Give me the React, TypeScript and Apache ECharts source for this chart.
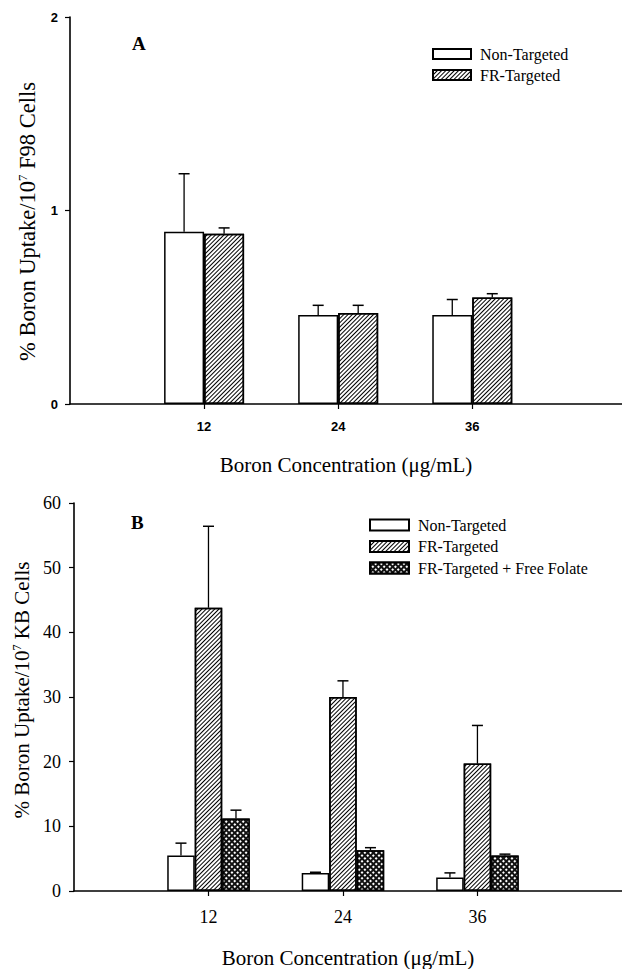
import React, { useEffect, useRef } from 'react';
import * as echarts from 'echarts';

// ---------- data ----------
const concentrationsA = [12, 24, 36];
const nonTargetedA = [0.89, 0.46, 0.46];
const nonTargetedSdA = [0.30, 0.05, 0.08];
const frTargetedA = [0.88, 0.47, 0.55];
const frTargetedSdA = [0.03, 0.04, 0.02];

const concentrationsB = [12, 24, 36];
const nonTargetedB = [5.5, 2.8, 2.1];
const nonTargetedSdB = [1.9, 0.1, 0.7];
const frTargetedB = [43.8, 30.0, 19.7];
const frTargetedSdB = [12.6, 2.5, 5.9];
const freeFolateB = [11.2, 6.3, 5.5];
const freeFolateSdB = [1.3, 0.4, 0.2];

const xTickValues = [12, 24, 36];
const seriesNamesA = ['Non-Targeted', 'FR-Targeted'];
const seriesNamesB = ['Non-Targeted', 'FR-Targeted', 'FR-Targeted + Free Folate'];

// ---------- styles ----------
const SERIF = "'Liberation Serif', 'Times New Roman', serif";
const SANS = "'Liberation Sans', Arial, sans-serif";

const plainStyle = { color: '#fff', borderColor: '#000', borderWidth: 1.5 };
const hatchStyle = {
  color: '#fff',
  borderColor: '#000',
  borderWidth: 1.5,
  decal: {
    symbol: 'rect',
    color: '#000',
    dashArrayX: [1, 0],
    dashArrayY: [1, 1.9],
    rotation: -Math.PI / 4,
  },
};
const crossStyle = {
  color: '#111',
  borderColor: '#000',
  borderWidth: 1.5,
  decal: {
    symbol: 'rect',
    color: '#fff',
    dashArrayX: [1.6, 1.6],
    dashArrayY: [1.6, 1.6],
    rotation: Math.PI / 4,
  },
};

function barSeries(name: string, axis: number, xs: number[], ys: number[], width: number, style: any) {
  return {
    type: 'bar',
    name,
    xAxisIndex: axis,
    yAxisIndex: axis,
    data: xs.map((x, i) => [x, ys[i]]),
    barWidth: width,
    barGap: '0%',
    itemStyle: style,
    emphasis: { disabled: true },
  };
}

function errorSeries(axis: number, xs: number[], ys: number[], sds: number[], offset: number, cap: number) {
  return {
    type: 'custom',
    xAxisIndex: axis,
    yAxisIndex: axis,
    silent: true,
    z: 5,
    data: xs.map((x, i) => [x, ys[i], ys[i] + sds[i]]),
    encode: { x: 0, y: [1, 2] },
    renderItem: (params: any, api: any) => {
      const base = api.coord([api.value(0), api.value(1)]);
      const top = api.coord([api.value(0), api.value(2)]);
      const cx = base[0] + offset;
      return {
        type: 'group',
        children: [
          { type: 'line', shape: { x1: cx, y1: base[1], x2: cx, y2: top[1] }, style: { stroke: '#000', lineWidth: 1.3 } },
          { type: 'line', shape: { x1: cx - cap / 2, y1: top[1], x2: cx + cap / 2, y2: top[1] }, style: { stroke: '#000', lineWidth: 1.5 } },
        ],
      };
    },
  };
}

const axisLineStyle = { color: '#000', width: 1.6 };

export default function App() {
  const ref = useRef<HTMLDivElement>(null);
  useEffect(() => {
    if (!ref.current) return;
    const chart = echarts.init(ref.current, undefined, { renderer: 'svg' });
    const wA = 40;
    const wB = 27.5;
    const option: any = {
      animation: false,
      backgroundColor: '#fff',
      title: [
        { text: 'A', left: 132, top: 34, padding: 0, textStyle: { fontFamily: SERIF, fontWeight: 'bold', fontSize: 19, color: '#000' } },
        { text: 'B', left: 131, top: 513, padding: 0, textStyle: { fontFamily: SERIF, fontWeight: 'bold', fontSize: 19, color: '#000' } },
      ],
      legend: [
        {
          data: seriesNamesA,
          orient: 'vertical',
          left: 432,
          top: 46,
          padding: 0,
          itemWidth: 38,
          itemHeight: 10,
          itemGap: 5,
          icon: 'rect',
          selectedMode: false,
          textStyle: { fontFamily: SERIF, fontSize: 16, color: '#000', padding: [0, 0, 0, 4] },
        },
        {
          data: seriesNamesB,
          orient: 'vertical',
          left: 369,
          top: 517,
          padding: 0,
          itemWidth: 39,
          itemHeight: 11,
          itemGap: 5.5,
          icon: 'rect',
          selectedMode: false,
          textStyle: { fontFamily: SERIF, fontSize: 16, color: '#000', padding: [0, 0, 0, 4] },
        },
      ],
      grid: [
        { left: 70, top: 17, right: 0, height: 387 },
        { left: 74, top: 503, right: 0, height: 388 },
      ],
      xAxis: [
        {
          gridIndex: 0,
          type: 'value',
          min: 0,
          max: 49.4,
          splitLine: { show: false },
          axisLine: { lineStyle: axisLineStyle },
          axisTick: { customValues: xTickValues, length: 5, lineStyle: { color: '#000', width: 1.2 } },
          axisLabel: { customValues: xTickValues, fontFamily: SANS, fontWeight: 'bold', fontSize: 13, color: '#000', margin: 16 },
          name: 'Boron Concentration (μg/mL)',
          nameLocation: 'middle',
          nameGap: 50,
          nameTextStyle: { fontFamily: SERIF, fontSize: 21, color: '#000' },
        },
        {
          gridIndex: 1,
          type: 'value',
          min: 0,
          max: 48.9,
          splitLine: { show: false },
          axisLine: { lineStyle: axisLineStyle },
          axisTick: { customValues: xTickValues, length: 5, lineStyle: { color: '#000', width: 1.2 } },
          axisLabel: { customValues: xTickValues, fontFamily: SERIF, fontSize: 18, color: '#000', margin: 17 },
          name: 'Boron Concentration (μg/mL)',
          nameLocation: 'middle',
          nameGap: 56,
          nameTextStyle: { fontFamily: SERIF, fontSize: 21, color: '#000' },
        },
      ],
      yAxis: [
        {
          gridIndex: 0,
          type: 'value',
          min: 0,
          max: 2,
          interval: 1,
          splitLine: { show: false },
          axisLine: { show: true, onZero: false, lineStyle: axisLineStyle },
          axisTick: { show: true, length: 5, lineStyle: { color: '#000', width: 1.2 } },
          axisLabel: { fontFamily: SANS, fontWeight: 'bold', fontSize: 13, color: '#000', margin: 12 },
          name: '{t|% Boron Uptake/10}{s|7}{t| F98 Cells}',
          nameLocation: 'middle',
          nameRotate: 90,
          nameGap: 31,
          nameTextStyle: {
            color: '#000',
            padding: [0, 22, 0, 0],
            rich: {
              t: { fontFamily: SERIF, fontSize: 22.5, color: '#000' },
              s: { fontFamily: SERIF, fontSize: 13, color: '#000', verticalAlign: 'top' },
            },
          },
        },
        {
          gridIndex: 1,
          type: 'value',
          min: 0,
          max: 60,
          interval: 10,
          splitLine: { show: false },
          axisLine: { show: true, onZero: false, lineStyle: axisLineStyle },
          axisTick: { show: true, length: 5, lineStyle: { color: '#000', width: 1.2 } },
          axisLabel: { fontFamily: SERIF, fontSize: 18, color: '#000', margin: 13 },
          name: '{t|% Boron Uptake/10}{s|7}{t| KB Cells}',
          nameLocation: 'middle',
          nameRotate: 90,
          nameGap: 41,
          nameTextStyle: {
            color: '#000',
            padding: [0, 0, 0, 14],
            rich: {
              t: { fontFamily: SERIF, fontSize: 21, color: '#000' },
              s: { fontFamily: SERIF, fontSize: 12, color: '#000', verticalAlign: 'top' },
            },
          },
        },
      ],
      series: [
        barSeries(seriesNamesA[0], 0, concentrationsA, nonTargetedA, wA, plainStyle),
        barSeries(seriesNamesA[1], 0, concentrationsA, frTargetedA, wA, hatchStyle),
        errorSeries(0, concentrationsA, nonTargetedA, nonTargetedSdA, -wA / 2, 11),
        errorSeries(0, concentrationsA, frTargetedA, frTargetedSdA, wA / 2, 11),
        barSeries(seriesNamesB[0], 1, concentrationsB, nonTargetedB, wB, plainStyle),
        barSeries(seriesNamesB[1], 1, concentrationsB, frTargetedB, wB, hatchStyle),
        barSeries(seriesNamesB[2], 1, concentrationsB, freeFolateB, wB, crossStyle),
        errorSeries(1, concentrationsB, nonTargetedB, nonTargetedSdB, -wB, 11),
        errorSeries(1, concentrationsB, frTargetedB, frTargetedSdB, 0, 11),
        errorSeries(1, concentrationsB, freeFolateB, freeFolateSdB, wB, 11),
      ],
    };
    chart.setOption(option);
    return () => chart.dispose();
  }, []);
  return (
    <div
      ref={ref}
      style={{ position: 'absolute', left: 0, top: 0, width: 622, height: 969, background: '#fff' }}
    />
  );
}
